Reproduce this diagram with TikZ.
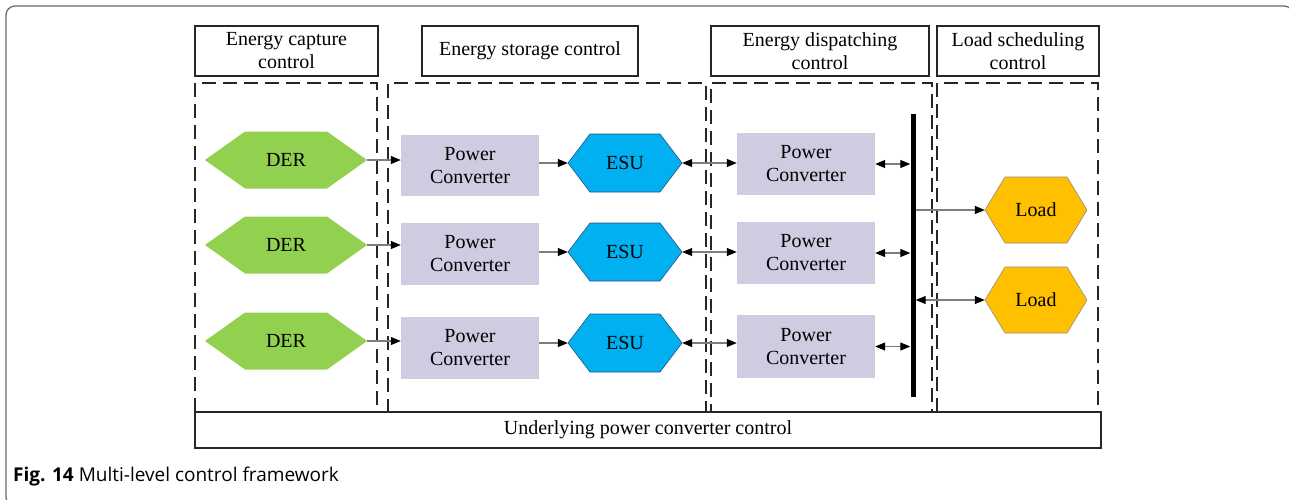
\documentclass[tikz,border=0pt]{standalone}
\usepackage{fontspec}
\setmainfont{Liberation Serif}
\newfontfamily\capfont{Open Sans}
\usetikzlibrary{arrows.meta}
\definecolor{derG}{RGB}{146,208,80}
\definecolor{esuB}{RGB}{0,176,240}
\definecolor{esuD}{RGB}{40,80,130}
\definecolor{loadY}{RGB}{255,192,0}
\definecolor{loadD}{RGB}{150,140,120}
\definecolor{pcL}{RGB}{209,203,225}
\definecolor{lineG}{RGB}{125,125,125}
\definecolor{frameG}{RGB}{105,105,105}
\tikzset{
  txt/.style={font=\fontsize{20}{23}\selectfont, align=center, inner sep=0pt},
  hdr/.style={txt, draw=black!85, line width=1.3pt, minimum height=50pt},
  region/.style={draw=black!85, line width=1.4pt, dash pattern=on 14pt off 7pt, minimum height=329pt, inner sep=0pt},
  pcbox/.style={txt, fill=pcL, minimum width=138pt},
  conn/.style={draw=lineG, line width=1.1pt},
  >={Triangle[length=10pt,width=8pt,color=black]}
}
\newcommand\myhex[8]{%
  \path[#7] (#2-#4/2,#3) -- ++(#6,-#5/2) -- ++(#4-2*#6,0) -- ++(#6,#5/2) -- ++(-#6,#5/2) -- ++(-#4+2*#6,0) -- cycle;
  \node[txt, minimum width=#4pt, minimum height=#5pt] (#1) at (#2,#3) {#8};
}
\begin{document}
\begin{tikzpicture}[x=1pt,y=-1pt]
\useasboundingbox (0,0) rectangle (1289,499);
\begin{scope}
\clip (0,0) rectangle (1289,499);
\draw[frameG, line width=1.3pt, rounded corners=9pt] (6,6) rectangle (1293,506);
\end{scope}

% headers
\node[hdr, minimum width=183pt] (h1) at (286.5,51) {Energy capture\\control};
\node[hdr, minimum width=216pt] (h2) at (530,51) {Energy storage control};
\node[hdr, minimum width=218pt] (h3) at (820,51) {Energy dispatching\\control};
\node[hdr, minimum width=162pt] (h4) at (1018,51) {Load scheduling\\control};

% dashed regions
\node[region, minimum width=182pt] (r1) at (286,247.5) {};
\node[region, minimum width=318pt] (r2) at (547,247.5) {};
\node[region, minimum width=221pt] (r3) at (821.5,247.5) {};
\node[region, minimum width=161pt] (r4) at (1017.5,247.5) {};

% base
\node[hdr, minimum width=906pt, minimum height=36pt] (base) at (648,430) {Underlying power converter control};

% DER
\myhex{der1}{286}{160}{162}{57}{40}{fill=derG}{DER}
\myhex{der2}{286}{245}{162}{57}{40}{fill=derG}{DER}
\myhex{der3}{286}{341}{162}{57}{40}{fill=derG}{DER}

% power converters (storage)
\node[pcbox, minimum height=61pt] (pc1) at (470,165.5) {Power\\Converter};
\node[pcbox, minimum height=62pt] (pc2) at (470,254) {Power\\Converter};
\node[pcbox, minimum height=62pt] (pc3) at (470,348) {Power\\Converter};

% ESU
\myhex{esu1}{625}{163}{114}{58}{22}{fill=esuB, draw=esuD, line width=0.6pt}{ESU}
\myhex{esu2}{625}{252}{114}{58}{22}{fill=esuB, draw=esuD, line width=0.6pt}{ESU}
\myhex{esu3}{625}{343}{114}{58}{22}{fill=esuB, draw=esuD, line width=0.6pt}{ESU}

% power converters (dispatch)
\node[pcbox, minimum height=62pt] (pd1) at (806,164) {Power\\Converter};
\node[pcbox, minimum height=62pt] (pd2) at (806,253) {Power\\Converter};
\node[pcbox, minimum height=63pt] (pd3) at (806,346.5) {Power\\Converter};

% bus
\node[fill=black, minimum width=5pt, minimum height=283pt, inner sep=0pt] (bus) at (913,255.5) {};

% loads
\myhex{load1}{1036}{210}{102}{66}{20}{fill=loadY, draw=loadD, line width=0.6pt}{Load}
\myhex{load2}{1036}{300}{102}{66}{20}{fill=loadY, draw=loadD, line width=0.6pt}{Load}

% connectors
\foreach \i in {1,2,3}{
  \draw[conn,->] (der\i.east) -- (der\i.east -| pc\i.west);
  \draw[conn,->] (pc\i.east |- esu\i.west) -- (esu\i.west);
  \draw[conn,<->] (esu\i.east) -- (esu\i.east -| pd\i.west);
  \draw[conn,<->] (pd\i.east) -- (pd\i.east -| bus.west);
}
\draw[conn,->] (bus.east |- load1.west) -- (load1.west);
\draw[conn,<->] (bus.east |- load2.west) -- (load2.west);

% caption
\node[anchor=base west, inner sep=0pt, font=\capfont\fontsize{19}{22}\selectfont] (cap) at (13,481) {\textbf{Fig. 14} Multi-level control framework};
\end{tikzpicture}
\end{document}
